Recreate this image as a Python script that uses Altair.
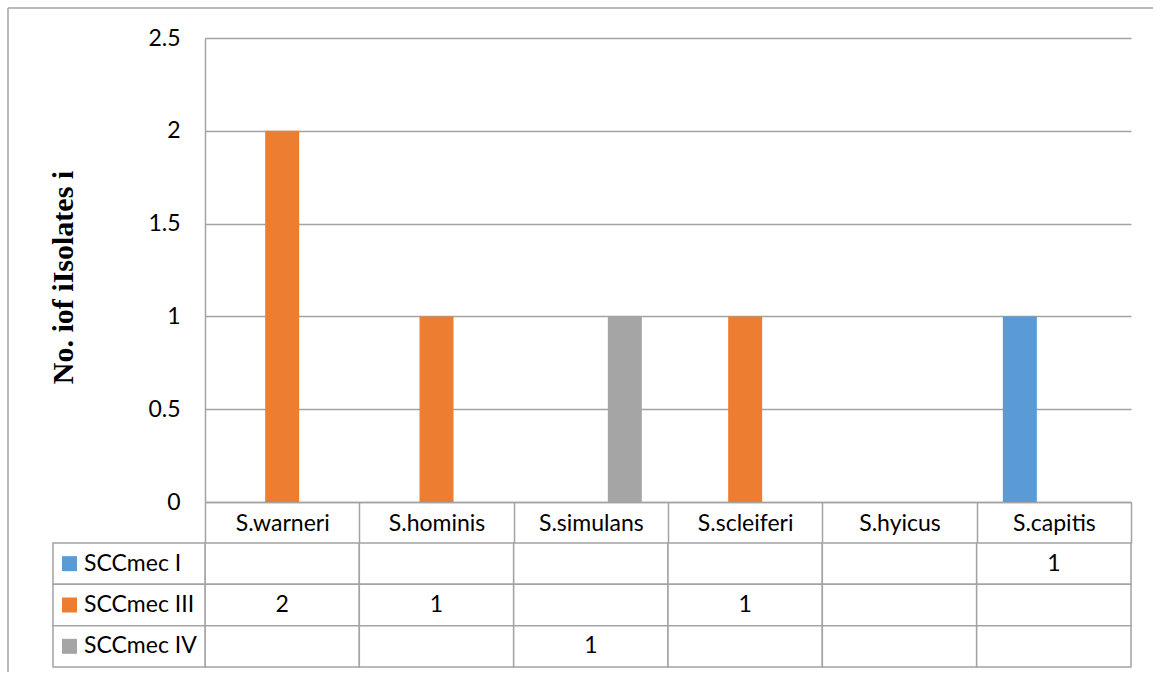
import altair as alt
import pandas as pd

species = ["S.warneri", "S.hominis", "S.simulans", "S.scleiferi", "S.hyicus", "S.capitis"]
types = ["SCCmec I", "SCCmec III", "SCCmec IV"]
colors = ["#5B9BD5", "#ED7D31", "#A5A5A5"]
sccmec_I = [None, None, None, None, None, 1]
sccmec_III = [2, 1, None, 1, None, None]
sccmec_IV = [None, None, 1, None, None, None]
y_ticks = [0, 0.5, 1, 1.5, 2, 2.5]

rows = []
for t, vals in zip(types, [sccmec_I, sccmec_III, sccmec_IV]):
    for s, v in zip(species, vals):
        rows.append({"species": s, "type": t, "value": v})
df = pd.DataFrame(rows)
leg = pd.DataFrame({"type": types})
one = pd.DataFrame({"a": [0]})

GRID = "#a3a3a3"
FONT = "Lato"
FS = 23

x_top = alt.X(
    "species:N", sort=species,
    scale=alt.Scale(paddingInner=0, paddingOuter=0),
    axis=alt.Axis(title=None, labelAngle=0, tickBand="extent", tickSize=41,
                  tickColor=GRID, tickWidth=1.5, domainColor=GRID, domainWidth=1.5,
                  labelPadding=-20, labelBaseline="middle", labelFont=FONT,
                  labelFontSize=FS, labelColor="black"),
)

bars = alt.Chart(df).mark_bar().encode(
    x=x_top,
    xOffset=alt.XOffset("type:N", sort=types,
                        scale=alt.Scale(paddingInner=0, paddingOuter=0.77)),
    y=alt.Y("value:Q", scale=alt.Scale(domain=[0, 2.5]),
            axis=alt.Axis(values=y_ticks, format="~g", grid=True, gridColor=GRID,
                          gridWidth=1.5, domainColor=GRID, domainWidth=1.5, ticks=False,
                          labelPadding=25, labelFont=FONT, labelFontSize=FS,
                          labelColor="black",
                          title="No. iof iIsolates i", titleFont="Liberation Serif",
                          titleFontSize=30, titleFontWeight="bold", titleColor="black",
                          titleX=-133, titleY=239, titleBaseline="alphabetic")),
    color=alt.Color("type:N", sort=types, scale=alt.Scale(domain=types, range=colors),
                    legend=None),
)

border_left = alt.Chart(one).mark_rule(color=GRID, strokeWidth=1.5).encode(
    x=alt.value(-197), y=alt.value(-30), y2=alt.value(634))
border_top = alt.Chart(one).mark_rule(color=GRID, strokeWidth=1.5).encode(
    x=alt.value(-197), x2=alt.value(948), y=alt.value(-30))

top = alt.layer(bars, border_left, border_top).properties(width=926, height=464)

xt = alt.X("species:N", sort=species, scale=alt.Scale(paddingInner=0, paddingOuter=0), axis=None)
yt = alt.Y("type:N", sort=types, scale=alt.Scale(paddingInner=0, paddingOuter=0), axis=None)

cells = alt.Chart(df).mark_rect(fill="white", stroke=GRID, strokeWidth=1.5).encode(x=xt, y=yt)
vals = alt.Chart(df).transform_filter("isValid(datum.value)").mark_text(
    font=FONT, fontSize=FS, color="black").encode(x=xt, y=yt, text="value:Q")
leg_cells = alt.Chart(leg).mark_rect(fill="white", stroke=GRID, strokeWidth=1.5).encode(
    x=alt.value(-152), x2=alt.value(0), y=yt)
leg_sq = alt.Chart(leg).mark_square(size=225, opacity=1).encode(
    x=alt.value(-135.5), y=yt,
    color=alt.Color("type:N", sort=types, scale=alt.Scale(domain=types, range=colors),
                    legend=None))
leg_txt = alt.Chart(leg).mark_text(align="left", font=FONT, fontSize=FS, color="black").encode(
    x=alt.value(-121), y=yt, text="type:N")

table = alt.layer(cells, vals, leg_cells, leg_sq, leg_txt).properties(width=926, height=124)

chart = alt.vconcat(top, table, spacing=41, bounds="flush").resolve_scale(
    x="independent", y="independent", xOffset="independent"
).properties(
    padding={"left": 7, "top": 7, "right": 0, "bottom": 0},
    background="white",
).configure_view(stroke=None)

chart.save("out.html", embed_options={"renderer": "svg", "actions": False})
